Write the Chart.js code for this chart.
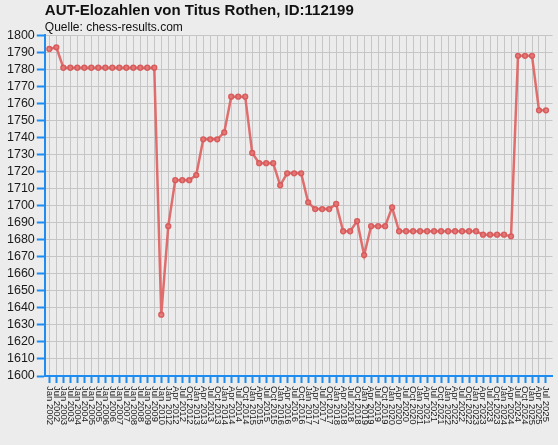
<!DOCTYPE html>
<html>
<head>
<meta charset="utf-8">
<script src="https://cdn.jsdelivr.net/npm/chart.js@4.4.1/dist/chart.umd.min.js"></script>
<style>
    html, body {
        margin: 0;
        padding: 0;
        background: #ececec;
    }
    #wrap {
        width: 558px;
        height: 445px;
    }
</style>
</head>
<body>
<div id="wrap">
    <canvas id="eloChart" width="558" height="445"></canvas>
</div>
<script>

const LISTEN = [
    "Jan 2002", "Jul 2002", "Jan 2003", "Jul 2003",
    "Jan 2004", "Jul 2004", "Jan 2005", "Jul 2005",
    "Jan 2006", "Jul 2006", "Jan 2007", "Jul 2007",
    "Jan 2008", "Jul 2008", "Jan 2009", "Jul 2009",
    "Jan 2010",
    "Jan 2012", "Apr 2012", "Jul 2012", "Oct 2012",
    "Jan 2013", "Apr 2013", "Jul 2013", "Oct 2013",
    "Jan 2014", "Apr 2014", "Jul 2014", "Oct 2014",
    "Jan 2015", "Apr 2015", "Jul 2015", "Oct 2015",
    "Jan 2016", "Apr 2016", "Jul 2016", "Oct 2016",
    "Jan 2017", "Apr 2017", "Jul 2017", "Oct 2017",
    "Jan 2018", "Apr 2018", "Jul 2018", "Oct 2018",
    "Jan 2019", "Apr 2019", "Jul 2019", "Oct 2019",
    "Jan 2020", "Apr 2020", "Jul 2020", "Oct 2020",
    "Jan 2021", "Apr 2021", "Jul 2021", "Oct 2021",
    "Jan 2022", "Apr 2022", "Jul 2022", "Oct 2022",
    "Jan 2023", "Apr 2023", "Jul 2023", "Oct 2023",
    "Jan 2024", "Apr 2024", "Jul 2024", "Oct 2024",
    "Jan 2025", "Apr 2025", "Jul 2025"
];

const ELO = [
    1792, 1793, 1781, 1781, 1781, 1781, 1781, 1781,
    1781, 1781, 1781, 1781, 1781, 1781, 1781, 1781,
    1636,
    1688, 1715, 1715, 1715, 1718, 1739, 1739, 1739,
    1743, 1764, 1764, 1764, 1731, 1725, 1725, 1725,
    1712, 1719, 1719, 1719, 1702, 1698, 1698, 1698,
    1701, 1685, 1685, 1691, 1671, 1688, 1688, 1688,
    1699, 1685, 1685, 1685, 1685, 1685, 1685, 1685,
    1685, 1685, 1685, 1685, 1685, 1683, 1683, 1683,
    1683, 1682, 1788, 1788, 1788, 1756, 1756
];

const Y_MIN = 1600;
const Y_MAX = 1800;
const Y_STEP = 10;

const BLAU = "#1e8cf0";
const FONT = "Arial, 'Liberation Sans', sans-serif";

// x labels run top-to-bottom (rotated clockwise), so they are drawn here
const xLabelPlugin = {
    id: "xLabels",
    afterDraw(chart) {
        const ctx = chart.ctx;
        const xScale = chart.scales.x;
        const top = chart.chartArea.bottom + 10;

        ctx.save();
        ctx.font = "9.5px " + FONT;
        ctx.fillStyle = "#1a1a1a";
        ctx.textAlign = "left";
        ctx.textBaseline = "middle";

        LISTEN.forEach((label, i) => {
            const x = xScale.getPixelForValue(i);
            ctx.save();
            ctx.translate(x, top);
            ctx.rotate(Math.PI / 2);
            ctx.fillText(label, 0, 0);
            ctx.restore();
        });

        ctx.restore();
    }
};

const ctx = document.getElementById("eloChart");

new Chart(ctx, {

    type: "line",

    data: {
        datasets: [
            {
                label: "Elo",
                data: ELO.map((v, i) => ({ x: i, y: v })),
                borderColor: "rgba(222, 96, 96, 0.9)",
                borderWidth: 2.5,
                backgroundColor: "rgba(232, 120, 120, 0.85)",
                pointBorderColor: "rgba(214, 88, 88, 0.95)",
                pointBorderWidth: 1.5,
                pointRadius: 2.4,
                tension: 0
            }
        ]
    },

    options: {
        responsive: false,
        animation: false,
        layout: {
            padding: {
                left: 5,
                right: 5,
                top: 0,
                bottom: 62
            }
        },
        plugins: {
            legend: { display: false },
            tooltip: { enabled: false },
            title: {
                display: true,
                text: "AUT-Elozahlen von Titus Rothen, ID:112199",
                align: "start",
                fullSize: false,
                color: "#111111",
                font: { family: FONT, size: 15, weight: "bold" },
                padding: { top: 2, bottom: 0 }
            },
            subtitle: {
                display: true,
                text: "Quelle: chess-results.com",
                align: "start",
                fullSize: false,
                color: "#111111",
                font: { family: FONT, size: 12 },
                padding: { top: 0, bottom: 1 }
            }
        },
        scales: {
            x: {
                type: "linear",
                min: -0.65,
                max: ELO.length - 1 + 0.93,
                afterBuildTicks(scale) {
                    scale.ticks = LISTEN.map((l, i) => ({ value: i }));
                },
                ticks: { display: false },
                grid: {
                    color: "#c6c6c6",
                    lineWidth: 1,
                    drawTicks: true,
                    tickLength: 7,
                    tickColor: BLAU,
                    tickWidth: 2
                },
                border: {
                    color: BLAU,
                    width: 2
                }
            },
            y: {
                min: Y_MIN,
                max: Y_MAX,
                ticks: {
                    stepSize: Y_STEP,
                    autoSkip: false,
                    padding: 2,
                    color: "#1a1a1a",
                    font: { family: FONT, size: 12.5 },
                    callback: (v) => String(v)
                },
                grid: {
                    color: "#c6c6c6",
                    lineWidth: 1,
                    tickLength: 8,
                    tickColor: BLAU,
                    tickWidth: 2
                },
                border: {
                    color: BLAU,
                    width: 2
                }
            }
        }
    },

    plugins: [xLabelPlugin]

});
</script>
</body>
</html>
